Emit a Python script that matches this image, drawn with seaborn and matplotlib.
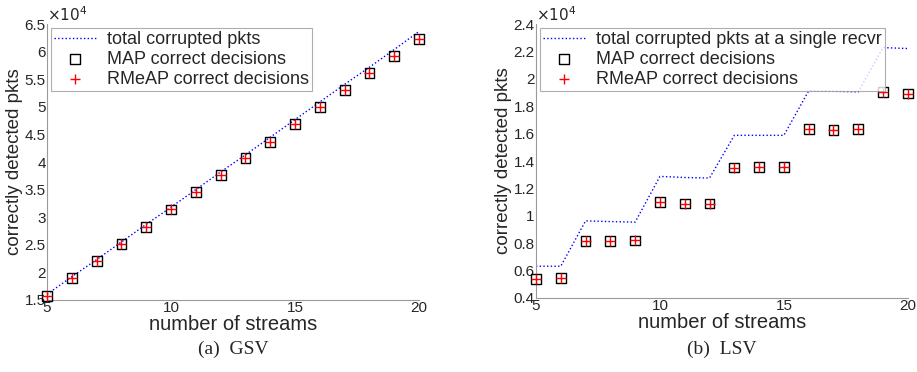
import numpy as np
import pandas as pd
import seaborn as sns
import matplotlib
matplotlib.use("Agg")
import matplotlib.pyplot as plt
from matplotlib.ticker import FuncFormatter, MultipleLocator

# data
streams = list(range(5, 21))

gsv_total = [16000, 19200, 22300, 25500, 28700, 31800, 35000, 38200,
             41300, 44500, 47700, 50900, 54100, 57200, 60400, 63700]
gsv_map = [15700, 18900, 22000, 25200, 28200, 31400, 34500, 37600,
           40700, 43700, 46900, 50000, 53100, 56200, 59300, 62300]
gsv_rmeap = gsv_map

lsv_total = [6320, 6320, 9630, 9580, 9540, 12880, 12800, 12760,
             15880, 15880, 15880, 19130, 19100, 19050, 22290, 22220]
lsv_map = [5390, 5460, 8150, 8150, 8200, 11000, 10900, 10900,
           13530, 13580, 13580, 16370, 16300, 16370, 19030, 18930]
lsv_rmeap = lsv_map

total_labels = ["total corrupted pkts", "total corrupted pkts at a single recvr"]
captions = ["(a)  GSV", "(b)  LSV"]

sns.set_style("white")
plt.rcParams["font.family"] = ["Liberation Sans", "DejaVu Sans"]

fig = plt.figure(figsize=(9.17, 3.72), dpi=100)
ax1 = fig.add_axes([0.0513, 0.194, 0.4057, 0.741])
ax2 = fig.add_axes([0.5845, 0.199, 0.4055, 0.736])

panels = [
    (ax1, gsv_total, gsv_map, gsv_rmeap, (15000, 65000), 5000),
    (ax2, lsv_total, lsv_map, lsv_rmeap, (4000, 24000), 2000),
]

for i, (ax, tot, mp, rm, ylim, step) in enumerate(panels):
    df = pd.DataFrame({"streams": streams, "total": tot, "map": mp, "rmeap": rm})
    sns.lineplot(data=df, x="streams", y="total", ax=ax, color="blue",
                 linestyle=":", linewidth=1.0, label=total_labels[i])
    sns.scatterplot(data=df, x="streams", y="map", ax=ax, marker="s",
                    facecolor="none", edgecolor="black", linewidth=1.0, s=50,
                    label="MAP correct decisions", clip_on=False, zorder=3)
    sns.scatterplot(data=df, x="streams", y="rmeap", ax=ax, marker="+",
                    color="red", linewidth=1.0, s=50,
                    label="RMeAP correct decisions", clip_on=False, zorder=4)
    ax.set_xlim(5, 20)
    ax.set_ylim(*ylim)
    ax.xaxis.set_major_locator(MultipleLocator(5))
    ax.yaxis.set_major_locator(MultipleLocator(step))
    ax.yaxis.set_major_formatter(FuncFormatter(lambda v, p: "%g" % round(v / 1e4, 2)))
    for side in ["top", "right"]:
        ax.spines[side].set_visible(False)
    for side in ["left", "bottom"]:
        ax.spines[side].set_color("#9a9a9a")
        ax.spines[side].set_linewidth(0.8)
    ax.tick_params(direction="in", length=3, width=0.8, color="#9a9a9a",
                   labelsize=11, pad=1)
    ax.set_xlabel("number of streams", fontsize=14.5, labelpad=0)
    ax.set_ylabel("correctly detected pkts", fontsize=13.5, labelpad=1)
    ax.text(0.0, 1.0, r"$\times10^4$", transform=ax.transAxes,
            fontsize=11, ha="left", va="bottom")
    leg = ax.legend(loc="upper left", fontsize=13, frameon=True, fancybox=False,
                    borderpad=0.2, labelspacing=0.15, handletextpad=0.6,
                    handlelength=2.3, borderaxespad=0.2)
    leg.get_frame().set_edgecolor("#9a9a9a")
    leg.get_frame().set_linewidth(0.8)
    fig.text((ax.get_position().x0 + ax.get_position().x1) / 2, 0.06, captions[i],
             family="Liberation Serif", fontsize=14, ha="center", va="center")

fig.savefig("out.png", dpi=100)
